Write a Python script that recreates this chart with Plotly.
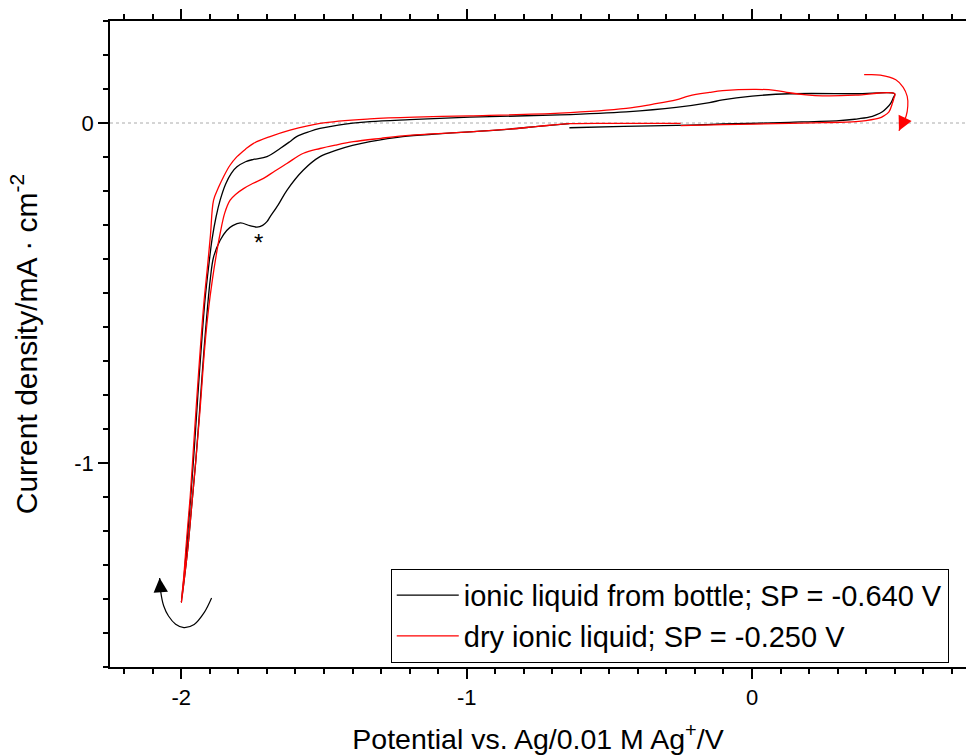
import plotly.graph_objects as go

# ---------------- data ----------------
# Black: ionic liquid from bottle, start potential -0.640 V
black_E = [-0.64, -0.75, -0.85, -0.989, -1.10, -1.224, -1.339, -1.40, -1.456, -1.514,
           -1.573, -1.630, -1.660, -1.689, -1.700, -1.715, -1.735, -1.760, -1.793,
           -1.820, -1.841, -1.864, -1.887, -1.899, -1.908, -1.918, -1.927, -1.938,
           -1.950, -1.963, -1.976, -1.988, -2.000,
           -1.990, -1.979, -1.967, -1.954, -1.942, -1.931, -1.917, -1.904, -1.892,
           -1.878, -1.864, -1.845, -1.825, -1.805, -1.775, -1.747, -1.700, -1.654,
           -1.620, -1.596, -1.550, -1.514, -1.450, -1.339, -1.200, -0.989, -0.674,
           -0.441, -0.266, -0.149, -0.103, 0.000, 0.131, 0.364, 0.500,
           0.495, 0.486, 0.472, 0.457, 0.435, 0.410, 0.360, 0.305, 0.131, -0.103,
           -0.220, -0.450, -0.640]
black_j = [-0.002, -0.010, -0.018, -0.026, -0.032, -0.040, -0.055, -0.066, -0.080, -0.099,
           -0.139, -0.198, -0.240, -0.276, -0.290, -0.301, -0.306, -0.302, -0.294,
           -0.302, -0.316, -0.345, -0.394, -0.463, -0.540, -0.640, -0.740, -0.870,
           -1.000, -1.120, -1.240, -1.330, -1.410,
           -1.330, -1.220, -1.100, -0.950, -0.800, -0.670, -0.520, -0.420, -0.340,
           -0.275, -0.227, -0.180, -0.148, -0.129, -0.114, -0.107, -0.099, -0.075,
           -0.055, -0.040, -0.025, -0.016, -0.006, 0.004, 0.010, 0.017, 0.024,
           0.033, 0.046, 0.060, 0.068, 0.079, 0.086, 0.086, 0.086,
           0.074, 0.058, 0.044, 0.033, 0.024, 0.017, 0.011, 0.007, 0.002, -0.003,
           -0.006, -0.010, -0.014]

# Red: dry ionic liquid, start potential -0.250 V
red_E = [-0.25, -0.45, -0.64, -0.75, -0.85, -0.989, -1.10, -1.223, -1.30, -1.397,
         -1.460, -1.514, -1.572, -1.630, -1.672, -1.712, -1.750, -1.782, -1.810,
         -1.829, -1.848, -1.864, -1.878, -1.891, -1.905, -1.918, -1.935, -1.950,
         -1.963, -1.976, -1.988, -2.000,
         -1.991, -1.981, -1.969, -1.957, -1.945, -1.934, -1.921, -1.908, -1.898,
         -1.887, -1.870, -1.852, -1.830, -1.805, -1.775, -1.747, -1.689, -1.619,
         -1.514, -1.339, -1.150, -0.989, -0.674, -0.441, -0.350, -0.266, -0.220,
         -0.149, -0.103, 0.014, 0.080, 0.131, 0.190, 0.247, 0.364, 0.500,
         0.497, 0.492, 0.480, 0.462, 0.445, 0.400, 0.364, 0.250, 0.131, -0.100,
         -0.250]
red_j = [-0.001, -0.001, -0.002, -0.010, -0.018, -0.026, -0.031, -0.038, -0.045, -0.055,
         -0.065, -0.075, -0.089, -0.119, -0.141, -0.163, -0.178, -0.193, -0.210,
         -0.227, -0.265, -0.325, -0.390, -0.460, -0.550, -0.660, -0.850, -1.000,
         -1.120, -1.240, -1.330, -1.410,
         -1.330, -1.220, -1.100, -0.950, -0.800, -0.670, -0.530, -0.420, -0.330,
         -0.227, -0.190, -0.158, -0.125, -0.099, -0.077, -0.060, -0.040, -0.021,
         -0.001, 0.012, 0.018, 0.021, 0.029, 0.043, 0.055, 0.068, 0.080,
         0.090, 0.095, 0.099, 0.096, 0.089, 0.083, 0.080, 0.082, 0.086,
         0.072, 0.058, 0.033, 0.021, 0.014, 0.007, 0.004, 0.001, -0.001, -0.005,
         -0.008]

series_names = ["ionic liquid from bottle; SP = -0.640 V",
                "dry ionic liquid; SP = -0.250 V"]

# scan-direction arrows (potential, current density)
arrow_black_E = [-1.894, -1.920, -1.955, -1.991, -2.020, -2.045, -2.062, -2.072, -2.076]
arrow_black_j = [-1.397, -1.440, -1.475, -1.484, -1.474, -1.450, -1.420, -1.380, -1.338]
arrow_red_E = [0.393, 0.450, 0.504, 0.530, 0.544, 0.546, 0.540, 0.528, 0.515]
arrow_red_j = [0.142, 0.141, 0.127, 0.105, 0.078, 0.050, 0.020, 0.000, -0.023]

marker_label = "*"
marker_pos = (-1.731, -0.352)

x_tickvals = [-2, -1, 0]
x_ticktext = ["-2", "-1", "0"]
y_tickvals = [-1, 0]
y_ticktext = ["-1", "0"]
x_range = [-2.25, 0.75]
y_range = [-1.6, 0.3]

# ---------------- figure ----------------
FONT = "Liberation Sans, Arial, sans-serif"
fig = go.Figure()

fig.add_trace(go.Scatter(x=black_E, y=black_j, mode="lines", name=series_names[0],
                         line=dict(color="black", width=1.3, shape="spline", smoothing=1.0)))
fig.add_trace(go.Scatter(x=red_E, y=red_j, mode="lines", name=series_names[1],
                         line=dict(color="red", width=1.3, shape="spline", smoothing=1.0)))

fig.add_trace(go.Scatter(x=arrow_black_E, y=arrow_black_j, mode="lines", showlegend=False,
                         hoverinfo="skip",
                         line=dict(color="black", width=1.2, shape="spline")))
fig.add_trace(go.Scatter(x=arrow_red_E, y=arrow_red_j, mode="lines", showlegend=False,
                         hoverinfo="skip",
                         line=dict(color="red", width=1.2, shape="spline")))

# arrowheads
fig.add_annotation(x=arrow_black_E[-1], y=arrow_black_j[-1],
                   ax=arrow_black_E[-2], ay=arrow_black_j[-2],
                   xref="x", yref="y", axref="x", ayref="y", text="",
                   showarrow=True, arrowhead=2, arrowsize=2.4, arrowwidth=1.2,
                   arrowcolor="black")
fig.add_annotation(x=arrow_red_E[-1], y=arrow_red_j[-1],
                   ax=arrow_red_E[-2], ay=arrow_red_j[-2],
                   xref="x", yref="y", axref="x", ayref="y", text="",
                   showarrow=True, arrowhead=2, arrowsize=2.4, arrowwidth=1.2,
                   arrowcolor="red")

fig.add_annotation(x=marker_pos[0], y=marker_pos[1], text=marker_label, showarrow=False,
                   font=dict(family=FONT, size=24, color="black"))

# dotted zero line
fig.add_shape(type="line", xref="x", yref="y", x0=x_range[0], x1=x_range[1], y0=0, y1=0,
              line=dict(color="#aaaaaa", width=1, dash="dot"), layer="below")

fig.update_layout(
    width=966, height=755,
    margin=dict(l=110, r=0, t=21, b=88),
    paper_bgcolor="white", plot_bgcolor="white",
    font=dict(family=FONT, size=22, color="black"),
    legend=dict(x=0.328, y=0.152, xanchor="left", yanchor="top",
                bgcolor="white", bordercolor="black", borderwidth=1,
                font=dict(family=FONT, size=29, color="black"),
                itemwidth=62, tracegroupgap=0),
    showlegend=True,
)

fig.update_xaxes(
    range=x_range, showgrid=False, zeroline=False,
    showline=True, linecolor="black", linewidth=1.5, mirror="allticks",
    ticks="outside", ticklen=10, tickwidth=1.5, tickcolor="black",
    tickmode="array", tickvals=x_tickvals, ticktext=x_ticktext,
    tickfont=dict(family=FONT, size=22),
    minor=dict(tickmode="linear", tick0=0, dtick=0.1, ticks="outside", ticklen=5,
               tickwidth=1.5, tickcolor="black", showgrid=False),
    title=dict(text="Potential vs. Ag/0.01 M Ag<sup>+</sup>/V",
               font=dict(family=FONT, size=28.5), standoff=21),
)
fig.update_yaxes(
    range=y_range, showgrid=False, zeroline=False,
    showline=True, linecolor="black", linewidth=1.5, mirror=False,
    ticks="outside", ticklen=10, tickwidth=1.5, tickcolor="black",
    tickmode="array", tickvals=y_tickvals, ticktext=y_ticktext,
    tickfont=dict(family=FONT, size=22),
    minor=dict(tickmode="linear", tick0=0, dtick=0.1, ticks="outside", ticklen=5,
               tickwidth=1.5, tickcolor="black", showgrid=False),
    title=dict(text="Current density/mA \u00b7 cm<sup>-2</sup>",
               font=dict(family=FONT, size=30), standoff=28),
)

fig.write_html("out.html")
